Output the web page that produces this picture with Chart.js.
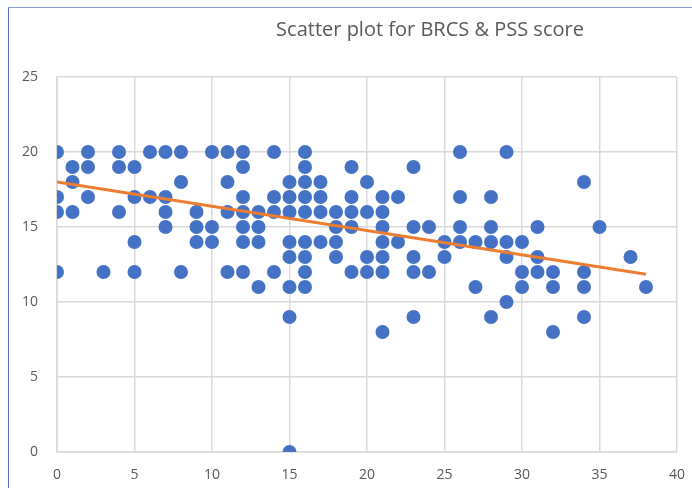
<!DOCTYPE html>
<html>
<head>
<meta charset="utf-8">
<script src="https://cdn.jsdelivr.net/npm/chart.js@4"></script>
<style>
  html, body { margin: 0; padding: 0; background: #fff; }
  #wrap { position: relative; width: 692px; height: 488px; }
  #frame { position: absolute; left: 8px; top: 7px; right: -2px; bottom: -2px;
           border-left: 1.5px solid #4f74c4; border-top: 1.5px solid #8aa2cf; }
</style>
</head>
<body>
<div id="wrap">
  <canvas id="scatterChart" width="692" height="488"></canvas>
  <div id="frame"></div>
</div>
<script>
// BRCS score (x) and PSS score (y), one entry per respondent
const brcs = [
  0, 2, 4, 6, 7, 8, 10, 11, 12, 14, 16, 26, 29,
  1, 2, 4, 5, 12, 16, 19, 23,
  1, 8, 11, 15, 16, 17, 20, 34,
  0, 2, 5, 6, 7, 12, 14, 15, 16, 17, 19, 21, 22, 26, 28,
  0, 1, 4, 7, 9, 11, 12, 13, 14, 15, 16, 17, 18, 19, 20, 21,
  7, 9, 10, 12, 13, 18, 19, 21, 23, 24, 26, 28, 31, 35,
  5, 9, 10, 12, 13, 15, 16, 17, 18, 21, 22, 25, 26, 27, 28, 29, 30,
  15, 16, 18, 20, 21, 23, 25, 29, 31, 37,
  0, 3, 5, 8, 11, 12, 14, 16, 19, 20, 21, 23, 24, 30, 31, 32, 34,
  13, 15, 16, 27, 30, 32, 34, 38,
  29,
  15, 23, 28, 34,
  21, 32,
  15
];
const pss = [
  20, 20, 20, 20, 20, 20, 20, 20, 20, 20, 20, 20, 20,
  19, 19, 19, 19, 19, 19, 19, 19,
  18, 18, 18, 18, 18, 18, 18, 18,
  17, 17, 17, 17, 17, 17, 17, 17, 17, 17, 17, 17, 17, 17, 17,
  16, 16, 16, 16, 16, 16, 16, 16, 16, 16, 16, 16, 16, 16, 16, 16,
  15, 15, 15, 15, 15, 15, 15, 15, 15, 15, 15, 15, 15, 15,
  14, 14, 14, 14, 14, 14, 14, 14, 14, 14, 14, 14, 14, 14, 14, 14, 14,
  13, 13, 13, 13, 13, 13, 13, 13, 13, 13,
  12, 12, 12, 12, 12, 12, 12, 12, 12, 12, 12, 12, 12, 12, 12, 12, 12,
  11, 11, 11, 11, 11, 11, 11, 11,
  10,
  9, 9, 9, 9,
  8, 8,
  0
];

// linear trendline end points
const trendX = [0, 38];
const trendY = [18.0, 11.85];

const xTicks = [0, 5, 10, 15, 20, 25, 30, 35, 40];
const yTicks = [0, 5, 10, 15, 20, 25];

const titleText = "Scatter plot for BRCS & PSS score";

// title sits right of centre in the original, so draw it by hand
const titlePlugin = {
  id: "offsetTitle",
  afterDraw(chart) {
    const ctx = chart.ctx;
    ctx.save();
    ctx.font = "20px 'Open Sans'";
    ctx.fillStyle = "#595959";
    ctx.textAlign = "center";
    ctx.textBaseline = "alphabetic";
    ctx.fillText(titleText, 430, 36);
    ctx.restore();
  }
};

const gridColor = "#d9d9d9";
const tickFont = { family: "'Open Sans'", size: 14 };

new Chart(document.getElementById("scatterChart"), {
  type: "scatter",
  data: {
    datasets: [
      {
        label: "Trend",
        type: "line",
        data: trendX.map((x, i) => ({ x: x, y: trendY[i] })),
        borderColor: "#ed7d31",
        borderWidth: 3,
        pointRadius: 0,
        fill: false,
        order: 0
      },
      {
        label: "PSS",
        data: brcs.map((x, i) => ({ x: x, y: pss[i] })),
        backgroundColor: "#4472c4",
        borderWidth: 0,
        pointRadius: 7,
        order: 1
      }
    ]
  },
  options: {
    responsive: false,
    animation: false,
    layout: { padding: { top: 77, right: 15, left: 0, bottom: 0 } },
    plugins: {
      legend: { display: false },
      title: { display: false },
      tooltip: { enabled: false }
    },
    scales: {
      x: {
        type: "linear",
        min: 0,
        max: 40,
        afterBuildTicks: axis => { axis.ticks = xTicks.map(v => ({ value: v })); },
        afterFit: axis => { axis.height = 36; axis.paddingLeft = 0; axis.paddingRight = 0; },
        grid: { color: gridColor, lineWidth: 1.5, drawTicks: false },
        border: { color: gridColor, width: 1.5 },
        ticks: { color: "#595959", font: tickFont, padding: 15, maxRotation: 0 }
      },
      y: {
        min: 0,
        max: 25,
        afterBuildTicks: axis => { axis.ticks = yTicks.map(v => ({ value: v })); },
        afterFit: axis => { axis.width = 57; axis.paddingTop = 0; axis.paddingBottom = 0; },
        grid: { color: gridColor, lineWidth: 1.5, drawTicks: false },
        border: { color: gridColor, width: 1.5 },
        ticks: { color: "#595959", font: tickFont, padding: 19 }
      }
    }
  },
  plugins: [titlePlugin]
});
</script>
</body>
</html>
